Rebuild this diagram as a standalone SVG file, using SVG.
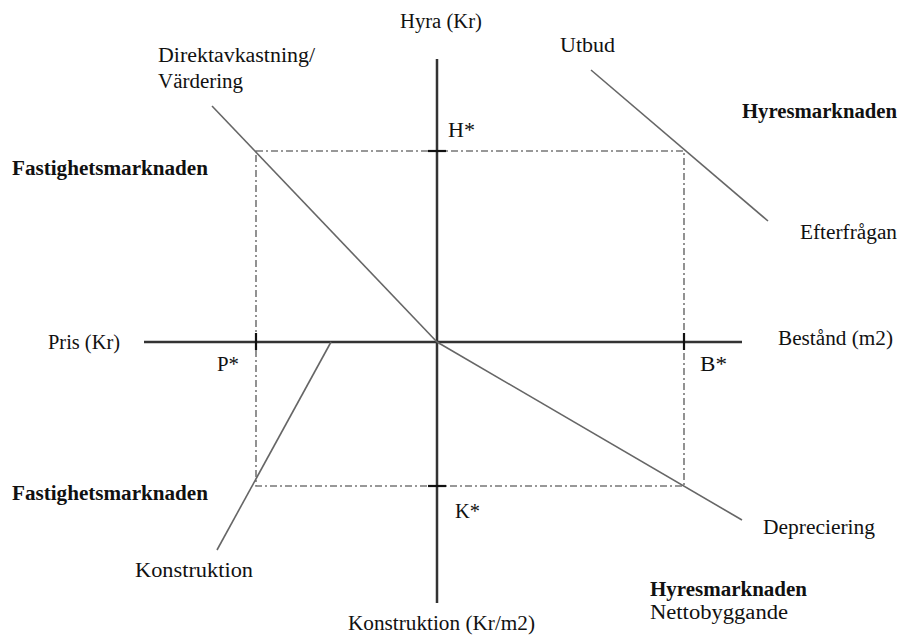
<svg xmlns="http://www.w3.org/2000/svg" width="902" height="635" viewBox="0 0 902 635">
<style>
text{font-family:"Liberation Serif","Times New Roman",serif;font-size:20px;fill:#111}
.b{font-weight:bold}
.axis{stroke:#333;stroke-width:2.5;fill:none}
.curve{stroke:#666;stroke-width:1.6;fill:none}
.dash{stroke:#777;stroke-width:1.6;fill:none;stroke-dasharray:7 3 2 3}
.tick{stroke:#111;stroke-width:2.2}
</style>
<rect width="902" height="635" fill="#fff"/>
<g id="connectors">
<rect class="dash" x="256" y="151" width="428" height="335"/>
<line class="axis" x1="437" y1="59" x2="437" y2="603"/>
<line class="axis" x1="144" y1="342" x2="742" y2="342"/>
<line class="curve" x1="212" y1="106" x2="437" y2="342"/>
<line class="curve" x1="591" y1="70" x2="768" y2="221"/>
<line class="curve" x1="331" y1="342" x2="217" y2="550"/>
<line class="curve" x1="437" y1="342" x2="742" y2="520"/>
<line class="tick" x1="428" y1="151" x2="446" y2="151"/>
<line class="tick" x1="428" y1="486" x2="446" y2="486"/>
<line class="tick" x1="256" y1="333" x2="256" y2="350"/>
<line class="tick" x1="684" y1="333" x2="684" y2="350"/>
</g>
<g id="labels">
<text x="400" y="28" textLength="82" lengthAdjust="spacingAndGlyphs">Hyra (Kr)</text>
<text x="158" y="62" textLength="157" lengthAdjust="spacingAndGlyphs">Direktavkastning/</text>
<text x="158" y="88" textLength="85" lengthAdjust="spacingAndGlyphs">Värdering</text>
<text x="448" y="137" textLength="27" lengthAdjust="spacingAndGlyphs">H*</text>
<text class="b" x="12" y="175" textLength="196" lengthAdjust="spacingAndGlyphs">Fastighetsmarknaden</text>
<text x="560" y="52" textLength="55" lengthAdjust="spacingAndGlyphs">Utbud</text>
<text class="b" x="742" y="118" textLength="155" lengthAdjust="spacingAndGlyphs">Hyresmarknaden</text>
<text x="800" y="239" textLength="97" lengthAdjust="spacingAndGlyphs">Efterfrågan</text>
<text x="48" y="349" textLength="72" lengthAdjust="spacingAndGlyphs">Pris (Kr)</text>
<text x="217" y="371" textLength="22" lengthAdjust="spacingAndGlyphs">P*</text>
<text x="778" y="345" textLength="115" lengthAdjust="spacingAndGlyphs">Bestånd (m2)</text>
<text x="700" y="371" textLength="27" lengthAdjust="spacingAndGlyphs">B*</text>
<text class="b" x="12" y="500" textLength="196" lengthAdjust="spacingAndGlyphs">Fastighetsmarknaden</text>
<text x="135" y="577" textLength="118" lengthAdjust="spacingAndGlyphs">Konstruktion</text>
<text x="455" y="518" textLength="25" lengthAdjust="spacingAndGlyphs">K*</text>
<text x="763" y="534" textLength="112" lengthAdjust="spacingAndGlyphs">Depreciering</text>
<text class="b" x="650" y="596" textLength="157" lengthAdjust="spacingAndGlyphs">Hyresmarknaden</text>
<text x="650" y="619" textLength="138" lengthAdjust="spacingAndGlyphs">Nettobyggande</text>
<text x="348" y="630" textLength="187" lengthAdjust="spacingAndGlyphs">Konstruktion (Kr/m2)</text>
</g>
</svg>
